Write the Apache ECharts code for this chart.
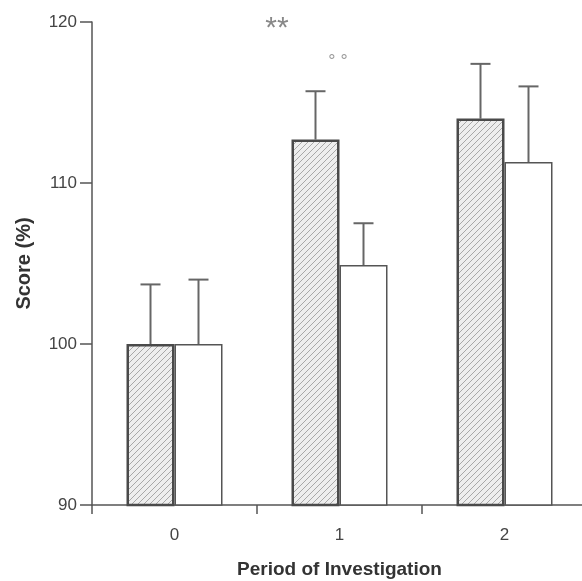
<!DOCTYPE html>
<html>
<head>
<meta charset="UTF-8">
<title>Score by period</title>
<script src="https://cdn.jsdelivr.net/npm/echarts@6/dist/echarts.min.js"></script>
<style>
  html, body { margin: 0; padding: 0; background: #fff; }
</style>
</head>
<body>
<div id="main" style="width: 582px;height:581px;"></div>
<script type="text/javascript">
// data
var periods = ['0', '1', '2'];
var hatchedMean = [100, 112.7, 114.0];
var hatchedErr = [3.7, 3.0, 3.4];
var whiteMean = [100, 104.9, 111.3];
var whiteErr = [4.0, 2.6, 4.7];
var yTicks = [90, 100, 110, 120];

// hatch pattern for the first series
var pat = document.createElement('canvas');
pat.width = 6; pat.height = 6;
var ctx = pat.getContext('2d');
ctx.fillStyle = '#eeeeee';
ctx.fillRect(0, 0, 6, 6);
ctx.strokeStyle = '#a8a8a8';
ctx.lineWidth = 1;
ctx.beginPath();
ctx.moveTo(0, 6); ctx.lineTo(6, 0);
ctx.moveTo(-3, 3); ctx.lineTo(3, -3);
ctx.moveTo(3, 9); ctx.lineTo(9, 3);
ctx.stroke();

function errData(mean, err) {
  return mean.map(function (m, i) { return [i, m, m + err[i]]; });
}

function errRenderer(offset) {
  return function (params, api) {
    var base = api.coord([api.value(0), api.value(1)]);
    var top = api.coord([api.value(0), api.value(2)]);
    var x = base[0] + offset;
    var st = { stroke: '#666', lineWidth: 2 };
    return {
      type: 'group',
      children: [
        { type: 'line', shape: { x1: x, y1: base[1], x2: x, y2: top[1] }, style: st },
        { type: 'line', shape: { x1: x - 10, y1: top[1], x2: x + 10, y2: top[1] }, style: st }
      ]
    };
  };
}

var myChart = echarts.init(document.getElementById('main'));
var option = {
  backgroundColor: '#fff',
  animation: false,
  textStyle: { fontFamily: 'Liberation Sans, Arial, sans-serif' },
  grid: { left: 92, width: 495, top: 22, bottom: 76, outerBoundsMode: 'none', containLabel: false },
  xAxis: {
    type: 'category',
    data: periods,
    name: 'Period of Investigation',
    nameLocation: 'middle',
    nameGap: 55,
    nameTextStyle: { fontSize: 19, fontWeight: 'bold', color: '#333' },
    axisLine: { lineStyle: { color: '#555', width: 1.5 } },
    axisTick: { show: true, length: 9, lineStyle: { color: '#555', width: 1.5 } },
    axisLabel: { fontSize: 17, color: '#444', margin: 22 }
  },
  yAxis: {
    type: 'value',
    min: yTicks[0],
    max: yTicks[yTicks.length - 1],
    interval: 10,
    name: 'Score (%)',
    nameLocation: 'middle',
    nameGap: 58,
    nameTextStyle: { fontSize: 20, fontWeight: 'bold', color: '#333' },
    splitLine: { show: false },
    axisLine: { show: true, lineStyle: { color: '#555', width: 1.5 } },
    axisTick: { show: true, length: 12, lineStyle: { color: '#555', width: 1.5 } },
    axisLabel: { fontSize: 17, color: '#444', margin: 15 }
  },
  series: [
    {
      name: 'hatched',
      type: 'bar',
      barWidth: 48,
      barGap: '0%',
      data: hatchedMean,
      itemStyle: {
        color: { image: pat, repeat: 'repeat' },
        borderColor: '#4a4a4a',
        borderWidth: 2.5
      },
      z: 2
    },
    {
      name: 'open',
      type: 'bar',
      barWidth: 48,
      barGap: '0%',
      data: whiteMean,
      itemStyle: { color: '#fff', borderColor: '#555', borderWidth: 1.5 },
      z: 2
    },
    {
      type: 'custom',
      renderItem: errRenderer(-24),
      data: errData(hatchedMean, hatchedErr),
      encode: { x: 0, y: 2 },
      z: 1
    },
    {
      type: 'custom',
      renderItem: errRenderer(24),
      data: errData(whiteMean, whiteErr),
      encode: { x: 0, y: 2 },
      z: 1
    }
  ],
  graphic: [
    { type: 'text', style: { x: 277, y: 29, text: '**', fill: '#888', font: '30px Liberation Sans', textAlign: 'center', textVerticalAlign: 'middle' } },
    { type: 'text', style: { x: 338, y: 62, text: '° °', fill: '#999', font: '18px Liberation Sans', textAlign: 'center', textVerticalAlign: 'middle' } }
  ]
};
myChart.setOption(option);
</script>
</body>
</html>
